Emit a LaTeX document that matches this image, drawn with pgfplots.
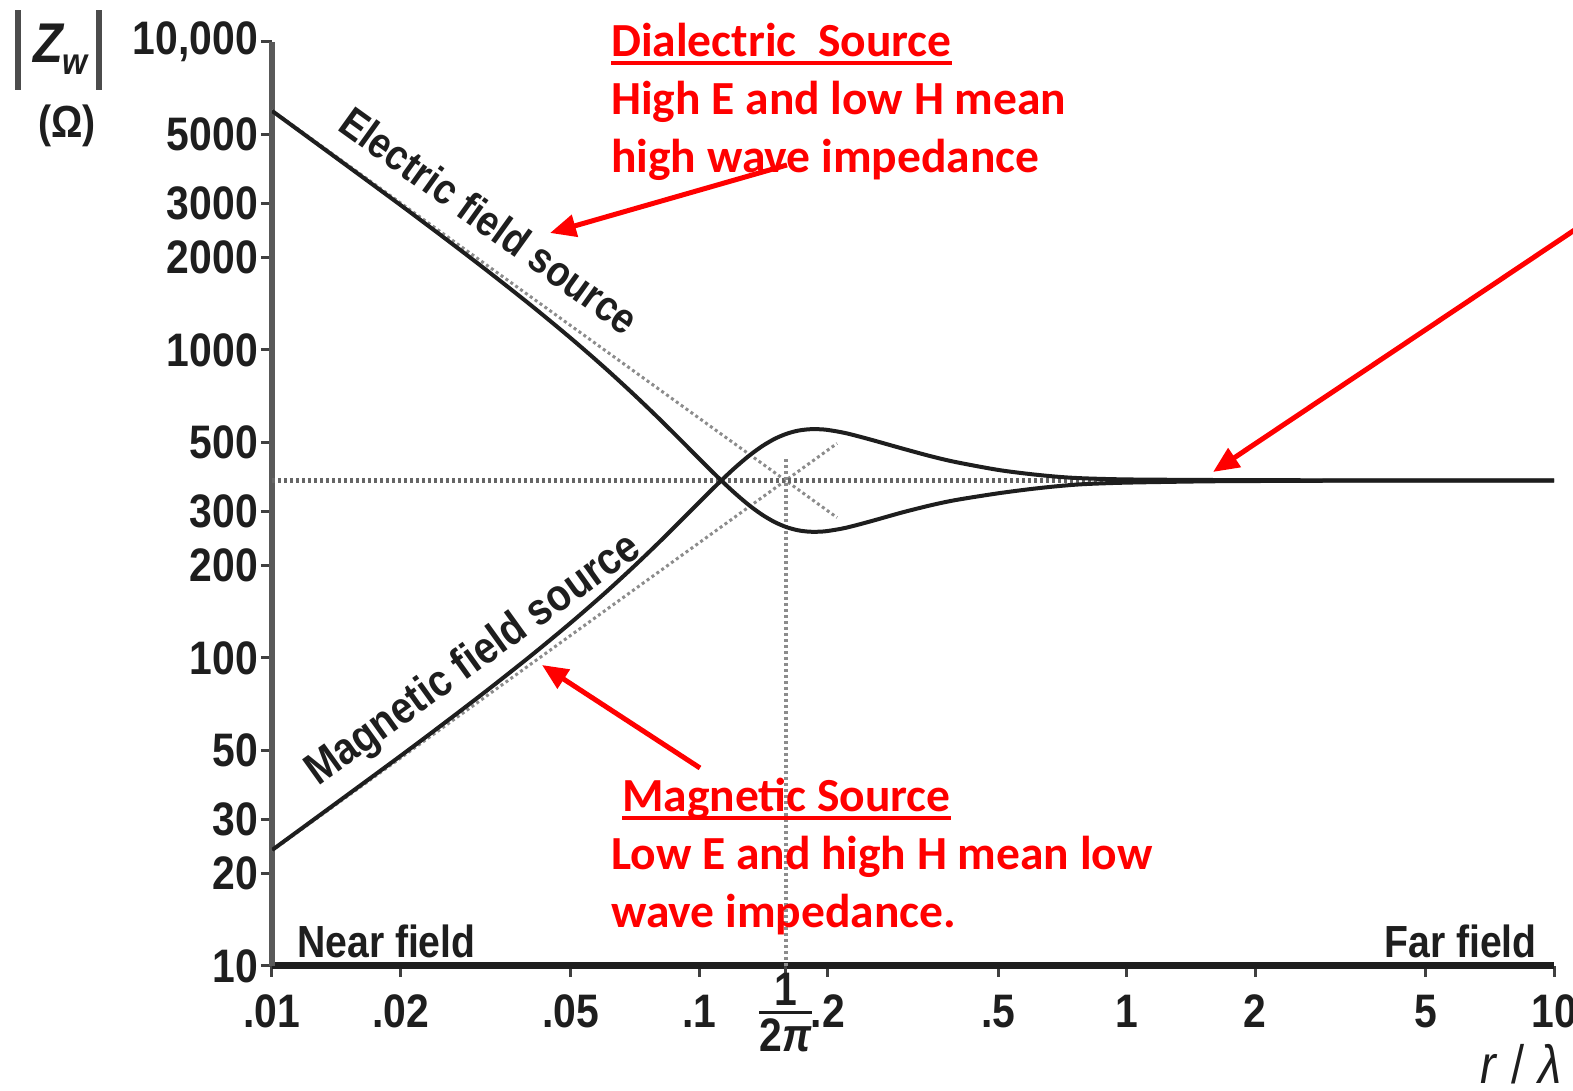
\documentclass[border=0pt]{standalone}
\usepackage{fontspec}
\setmainfont{Liberation Sans}[FakeStretch=0.87]
\newfontfamily\redfont{Carlito}
\usepackage{pgfplots}
\pgfplotsset{compat=1.18}
\usetikzlibrary{arrows.meta}
\definecolor{annred}{RGB}{255,0,0}
\definecolor{ink}{RGB}{30,30,30}
\definecolor{dotgray}{RGB}{140,140,140}
\newcommand\redul[1]{\setbox0=\hbox{#1}\rlap{\rule[-8pt]{\wd0}{3.5pt}}\box0}
\newcommand\twopi{\vbox{\offinterlineskip\halign{\hfil##\hfil\cr 1\cr\noalign{\kern5pt\hrule height 3pt\kern5pt}2\textit{π}\cr}}}
\begin{document}
\begin{tikzpicture}
\path[use as bounding box] (0,0) rectangle (1573pt,1091pt);
\begin{axis}[
  at={(272pt,125pt)}, anchor=south west,
  scale only axis, width=1282pt, height=924pt,
  xmode=log, ymode=log,
  xmin=0.01, xmax=10, ymin=10, ymax=10000,
  axis x line*=bottom, axis y line*=left,
  x axis line style={-, line width=7pt, ink},
  y axis line style={-, line width=6pt, black!65},
  xtick={0.01,0.02,0.05,0.1,0.2,0.5,1,2,5,10},
  xticklabels={.01,.02,.05,.1,.2,.5,1,2,5,10},
  extra x ticks={0.159155},
  extra x tick labels={\twopi},
  extra x tick style={tick label style={yshift=22pt, font=\bfseries\fontsize{40}{44}\selectfont}},
  ytick={10,20,30,50,100,200,300,500,1000,2000,3000,5000,10000},
  yticklabels={10,20,30,50,100,200,300,500,1000,2000,3000,5000,{10,000}},
  tick align=outside,
  major tick length=11pt,
  minor tick style={draw=none},
  tick style={line width=3pt, black!75},
  xticklabel style={font=\bfseries\fontsize{47}{52}\selectfont, text=ink, anchor=north, inner sep=0pt, yshift=-18pt},
  yticklabel style={font=\bfseries\fontsize{47}{52}\selectfont, text=ink, anchor=east, inner sep=0pt, xshift=-3pt},
]
% asymptotes
\addplot[dotgray, line width=3pt, dash pattern=on 3pt off 3pt] coordinates {(0.01,6000) (0.21,285.7)};
\addplot[dotgray, line width=3pt, dash pattern=on 3pt off 3pt] coordinates {(0.01,23.69) (0.21,497.4)};
% 377 ohm line and 1/(2 pi) line
\addplot[black!60, line width=5pt, dash pattern=on 3pt off 3pt] coordinates {(0.01,377) (1,377)};
\addplot[dotgray, line width=4pt, dash pattern=on 3pt off 3pt] coordinates {(0.159155,10) (0.159155,449)};
% electric field source
\addplot[ink, line width=4pt, smooth] table {
x y
0.01 5976.6
0.02 2953.5
0.03 1931.5
0.04 1411.1
0.05 1092.8
0.06 876.9
0.07 720.8
0.08 603.6
0.09 513.3
0.10 443.2
0.11 388.7
0.12 346.8
0.13 315.3
0.14 292.3
0.15 276.3
0.16 265.9
0.17 259.9
0.18 257.2
0.19 257.0
0.20 258.5
0.22 264.6
0.25 277.1
0.30 297.5
0.35 313.8
0.40 326.1
0.50 342.5
0.60 354
0.70 362
0.80 367
1.0 371
1.5 374.5
2 375.5
3 376.3
5 376.7
10 376.9
};
% magnetic field source
\addplot[ink, line width=4pt, smooth] table {
x y
0.01 23.78
0.02 48.12
0.03 73.59
0.04 100.72
0.05 130.06
0.06 162.1
0.07 197.2
0.08 235.5
0.09 276.9
0.10 320.7
0.11 365.6
0.12 409.8
0.13 450.8
0.14 486.3
0.15 514.5
0.16 534.5
0.17 546.9
0.18 552.6
0.19 553.1
0.20 549.9
0.22 537.1
0.25 513.0
0.30 477.8
0.35 451
0.40 432
0.50 408
0.60 395
0.70 387
0.80 383
1.0 380
1.5 378.5
2 378
3 377.5
5 377.2
10 377.1
};
\end{axis}
\begin{scope}[x=1pt,y=1pt,shift={(0pt,1091pt)},yscale=-1]
  \tikzset{blk/.style={inner sep=0pt, text=ink, font=\bfseries\fontsize{45}{50}\selectfont}}
  \node[blk, anchor=base west, rotate=-35.7, font=\bfseries\fontsize{43}{48}\selectfont] at (336,129) {Electric field source};
  \node[blk, anchor=base west, rotate=35.7] at (318,787) {Magnetic field source};
  \node[blk, anchor=base west] at (297,958) {Near field};
  \node[blk, anchor=base east] at (1537,958) {Far field};
  \node[inner sep=0pt, text=ink, font=\fontsize{54}{58}\selectfont, anchor=base east] at (1562,1084) {\textit{r}\hspace{14pt}/\hspace{14pt}\textit{λ}};
  \node[blk, anchor=base west] at (15,63) {{\color{black!70}\rule[-27pt]{6pt}{80pt}}\hspace{12pt}{\fontsize{56}{60}\selectfont\itshape Z}\raisebox{-12pt}{\fontsize{37}{40}\selectfont\itshape w}\hspace{8pt}{\color{black!70}\rule[-27pt]{6pt}{80pt}}};
  \node[blk, anchor=base west] at (38,138) {(Ω)};
  % red annotations
  \tikzset{red/.style={inner sep=0pt, anchor=base west, text=annred, font=\redfont\bfseries\fontsize{47.5}{58}\selectfont}}
  \node[red] at (611,57) {\redul{Dialectric~ Source}};
  \node[red] at (611,115) {High E and low H mean};
  \node[red] at (611,173) {high wave impedance};
  \node[red] at (622,812) {\redul{Magnetic Source}};
  \node[red] at (611,870) {Low E and high H mean low};
  \node[red] at (611,928) {wave impedance.};
  \tikzset{rarrow/.style={annred, line width=5pt, -{Triangle[length=26pt, width=22pt]}}}
  \draw[rarrow] (787,165) -- (550,233);
  \draw[rarrow] (700,768) -- (542,665);
  \draw[rarrow] (1600,213) -- (1213,472);
\end{scope}
\end{tikzpicture}
\end{document}
